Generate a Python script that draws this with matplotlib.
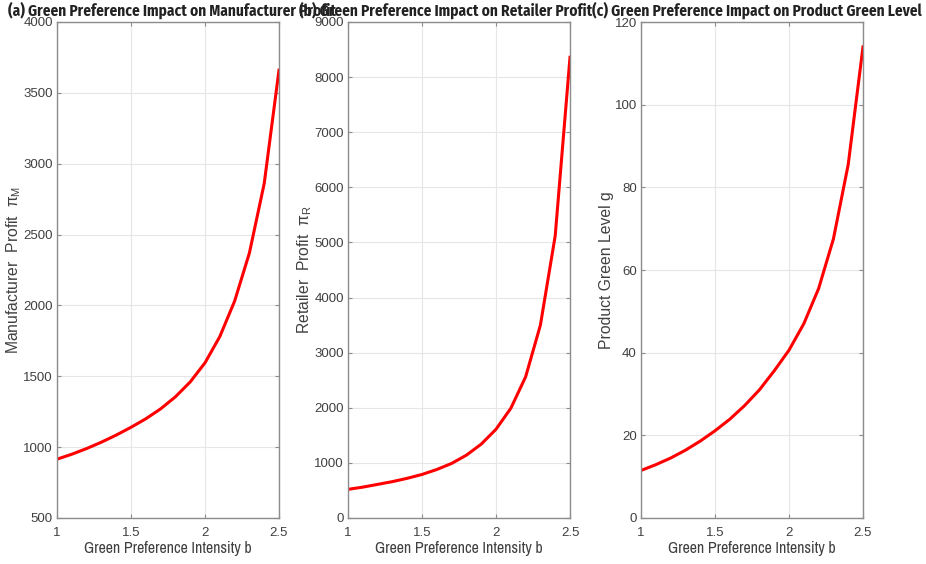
import matplotlib.pyplot as plt

plt.rcParams["font.family"] = ["Archivo Narrow", "Liberation Sans", "DejaVu Sans"]
plt.rcParams["mathtext.fontset"] = "custom"
plt.rcParams["mathtext.rm"] = "Liberation Sans"
plt.rcParams["mathtext.it"] = "Liberation Sans"

b = [1.0, 1.1, 1.2, 1.3, 1.4, 1.5, 1.6, 1.7, 1.8, 1.9, 2.0, 2.1, 2.2, 2.3, 2.4, 2.5]
manufacturer_profit = [915, 950, 990, 1035, 1085, 1140, 1200, 1270, 1355, 1460,
                       1595, 1780, 2030, 2370, 2860, 3660]
retailer_profit = [520, 560, 610, 660, 720, 790, 880, 990, 1140, 1340,
                   1610, 1990, 2560, 3500, 5120, 8360]
green_level = [11.5, 12.9, 14.5, 16.4, 18.6, 21.1, 23.9, 27.2, 31.0, 35.6,
               40.6, 47.0, 55.5, 67.5, 85.5, 114.0]

titles = ["(a) Green Preference Impact on Manufacturer Profit",
          "(b) Green Preference Impact on Retailer Profit",
          "(c) Green Preference Impact on Product Green Level"]
ylabels = ["Manufacturer  Profit  $\\pi_{M}$", "Retailer  Profit  $\\pi_{R}$",
           "Product Green Level g"]
series = [manufacturer_profit, retailer_profit, green_level]
ylims = [(500, 4000), (0, 9000), (0, 120)]
yticks = [range(500, 4001, 500), range(0, 9001, 1000), range(0, 121, 20)]
xticks = [1, 1.5, 2, 2.5]
xticklabels = ["1", "1.5", "2", "2.5"]

W, H = 926, 564
lefts = [57, 348, 641]
ylab_right = [23, 314, 614]
width = 222
top, bottom = 22, 518
txt = "#404040"
spine = "#8c8c8c"
sans = ["Liberation Sans", "DejaVu Sans"]
bold_narrow = ["Fira Sans Condensed", "Archivo Narrow", "Liberation Sans", "DejaVu Sans"]

fig = plt.figure(figsize=(W / 100, H / 100), dpi=100)
for i in range(3):
    ax = fig.add_axes([lefts[i] / W, 1 - bottom / H, width / W, (bottom - top) / H])
    ax.plot(b, series[i], color="#ff0000", lw=2.2)
    ax.set_xlim(1, 2.5)
    ax.set_ylim(*ylims[i])
    ax.set_xticks(xticks)
    ax.set_xticklabels(xticklabels)
    ax.set_yticks(list(yticks[i]))
    ax.grid(True, color="#e6e6e6", lw=0.8)
    ax.set_axisbelow(True)
    for s in ax.spines.values():
        s.set_color(spine)
        s.set_linewidth(1.0)
    ax.tick_params(direction="in", length=3, width=0.8, color=spine,
                   top=True, right=True, labelsize=9.5, labelcolor=txt)
    ax.tick_params(axis="x", pad=6.5)
    ax.tick_params(axis="y", pad=3)
    for lab in ax.get_xticklabels() + ax.get_yticklabels():
        lab.set_family(sans)
    ax.set_xlabel("Green Preference Intensity b", fontsize=11.5, color=txt, labelpad=1.5)
    ax.set_ylabel(ylabels[i], fontsize=11.3, color=txt, family=sans)
    ax.yaxis.set_label_coords(-(lefts[i] - ylab_right[i]) / width, 0.5)
    fig.text((lefts[i] - 49) / W, 1 - 10 / H, titles[i], fontsize=11,
             fontweight="bold", color="#222222", family=bold_narrow,
             ha="left", va="center")

fig.savefig("out.png", dpi=100)
